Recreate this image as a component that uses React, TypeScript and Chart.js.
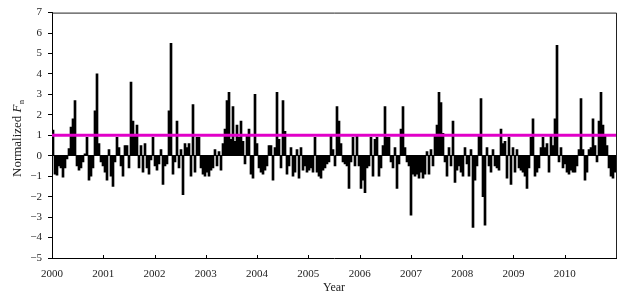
import React, { useEffect, useRef } from "react";
import { Chart, registerables } from "chart.js";

Chart.register(...registerables);

// Normalized Fn, one value per ~2 weeks (2000 .. 2011)
const VALUES: number[] = [
  1.25, -0.9, -0.95, -0.5, -0.6, -1.05, -0.6, -0.15, 0.35, 1.4,
  1.8, 2.7, -0.5, -0.7, -0.6, -0.3, 0.1, 0.9, -1.2, -1.0,
  -0.6, 2.2, 4.0, 0.6, -0.3, -0.5, -0.8, -1.2, 0.3, -1.0,
  -1.5, -0.3, 0.9, 0.4, -0.5, -1.0, 0.5, 0.5, -0.6, 3.6,
  1.7, 1.0, 1.5, -0.6, 0.5, -0.8, 0.6, -0.6, -0.9, -0.2,
  0.9, -0.5, -0.7, -0.4, 0.3, -1.4, -0.5, -0.4, 2.2, 5.5,
  -0.9, -0.3, 1.7, -0.6, 0.3, -1.9, 0.6, 0.4, 0.6, -1.0,
  2.5, -0.8, 0.9, 0.9, -0.6, -0.9, -1.0, -0.8, -1.0, -0.7,
  -0.6, 0.3, -0.5, 0.2, -0.7, 0.6, 1.3, 2.7, 3.1, 0.8,
  2.4, 0.7, 1.5, 0.9, 1.7, 0.7, -0.4, 1.0, 1.3, -0.9,
  -1.1, 3.0, 0.6, -0.6, -0.8, -0.9, -0.7, -0.5, 0.5, 0.5,
  -1.2, 0.4, 3.1, 0.8, -0.6, 2.7, 1.2, -0.9, -0.5, 0.4,
  -1.0, -0.8, 0.3, -1.1, 0.4, -0.7, -0.5, -0.8, -0.7, -0.6,
  -0.8, 0.9, -0.8, -1.0, -1.1, -0.7, -0.6, -0.4, -0.3, 1.0,
  0.3, -0.5, 2.4, 1.7, 0.6, -0.3, -0.4, -0.5, -1.6, -0.3,
  0.9, -0.5, 1.0, -0.5, -1.6, -1.2, -1.8, -0.6, -0.5, 0.9,
  -1.0, 0.8, 0.9, -1.0, -0.6, 0.5, 2.4, 0.9, 0.9, -0.3,
  -0.6, 0.4, -1.6, -0.4, 1.3, 2.4, 0.4, -0.3, -0.5, -2.9,
  -0.9, -1.0, -0.9, -1.1, -0.8, -1.1, -0.9, 0.2, -0.9, 0.3,
  -0.5, 1.0, 1.5, 3.1, 2.6, 1.1, -0.3, -1.0, 0.4, -0.5,
  1.7, -1.3, -0.7, -0.5, -0.8, -1.0, 0.4, -0.4, -1.0, 0.3,
  -3.5, -1.2, -0.5, 1.0, 2.8, -2.0, -3.4, 0.4, -0.5, -0.8,
  0.3, -0.5, -0.6, -0.7, 1.3, 0.6, 0.7, -1.1, 0.9, -1.4,
  0.4, -0.8, 0.3, -0.6, -0.7, -0.8, -1.0, -1.6, -0.6, 0.9,
  1.8, -1.0, -0.8, -0.6, 0.4, 0.9, 0.4, 0.6, -0.8, 1.0,
  0.5, 1.8, 5.4, -0.3, 0.4, -0.6, -0.4, -0.8, -0.9, -0.7,
  -0.8, -0.8, -0.5, 0.3, 2.8, 0.3, -1.2, -0.8, 0.3, 0.4,
  1.8, 0.5, -0.3, 1.7, 3.1, 1.5, 1.0, 0.5, -0.6, -1.0,
  -1.1, -0.8,
];

const START_YEAR = 2000;
const END_YEAR = 2011;
const LAST_LABEL_YEAR = 2010;
const Y_MIN = -5;
const Y_MAX = 7;
const THRESHOLD = 1;

const FONT = "'Liberation Serif', 'Times New Roman', serif";
const TEXT = "#222";
const MAGENTA = "rgb(225, 0, 200)";

const App: React.FC = () => {
  const ref = useRef<HTMLCanvasElement | null>(null);

  useEffect(() => {
    document.body.style.margin = "0";
    const canvas = ref.current;
    if (!canvas) return;

    const step = (END_YEAR - START_YEAR) / VALUES.length;
    const barData = VALUES.map((v, i) => ({ x: START_YEAR + (i + 0.5) * step, y: v }));
    const lineData = [
      { x: START_YEAR, y: THRESHOLD },
      { x: END_YEAR, y: THRESHOLD },
    ];

    const extras = {
      id: "extras",
      afterDraw(chart: any) {
        const { ctx, chartArea } = chart;
        const { left, right, top, bottom } = chartArea;
        ctx.save();
        ctx.strokeStyle = "#222";
        ctx.lineWidth = 1;
        ctx.beginPath();
        ctx.moveTo(left, top + 0.5);
        ctx.lineTo(right + 0.5, top + 0.5);
        ctx.lineTo(right + 0.5, bottom);
        ctx.stroke();
        const xs = chart.scales.x;
        ctx.strokeStyle = "#000";
        ctx.beginPath();
        for (let yr = START_YEAR + 1; yr <= LAST_LABEL_YEAR; yr++) {
          const px = Math.round(xs.getPixelForValue(yr)) + 0.5;
          ctx.moveTo(px, bottom);
          ctx.lineTo(px, bottom - 3);
        }
        ctx.stroke();
        ctx.fillStyle = TEXT;
        ctx.translate(21, 177);
        ctx.rotate(-Math.PI / 2);
        ctx.textBaseline = "alphabetic";
        ctx.textAlign = "left";
        ctx.font = `13px ${FONT}`;
        const part1 = "Normalized ";
        ctx.fillText(part1, 0, 0);
        let xoff = ctx.measureText(part1).width;
        ctx.font = `italic 13px ${FONT}`;
        ctx.fillText("F", xoff, 0);
        xoff += ctx.measureText("F").width + 0.5;
        ctx.font = `8px ${FONT}`;
        ctx.fillText("n", xoff, 3);
        ctx.restore();
      },
    };

    const chart = new Chart(canvas, {
      type: "bar",
      data: {
        datasets: [
          {
            type: "line",
            data: lineData,
            borderColor: MAGENTA,
            borderWidth: 3,
            pointRadius: 0,
            order: 0,
          } as any,
          {
            type: "bar",
            data: barData,
            backgroundColor: "#000",
            borderWidth: 0,
            barPercentage: 1,
            categoryPercentage: 1,
            order: 1,
          } as any,
        ],
      },
      options: {
        animation: false,
        responsive: false,
        maintainAspectRatio: false,
        layout: { padding: { top: 10, right: 11, left: 0, bottom: 0 } },
        plugins: { legend: { display: false }, tooltip: { enabled: false } },
        scales: {
          x: {
            type: "linear",
            min: START_YEAR,
            max: END_YEAR,
            offset: false,
            grid: { color: "rgba(0,0,0,0)", drawTicks: false, offset: false },
            border: { display: true, color: "#000", width: 1 },
            ticks: {
              stepSize: 1,
              autoSkip: false,
              maxRotation: 0,
              padding: 10,
              color: TEXT,
              font: { family: FONT, size: 11 },
              callback: (v: any) => (Number(v) <= LAST_LABEL_YEAR ? String(v) : ""),
            },
            title: {
              display: true,
              text: "Year",
              color: TEXT,
              font: { family: FONT, size: 12 },
              padding: { top: 0, bottom: 4 },
            },
            afterFit: (s: any) => {
              s.height = 41;
            },
          } as any,
          y: {
            min: Y_MIN,
            max: Y_MAX,
            grid: {
              color: (c: any) => (c.tick && c.tick.value === 0 ? "#000" : "rgba(0,0,0,0)"),
              tickColor: "#000",
              tickLength: 4,
              lineWidth: 1,
            },
            border: { display: true, color: "#000", width: 1 },
            ticks: {
              stepSize: 1,
              padding: 6,
              color: TEXT,
              font: { family: FONT, size: 11 },
              callback: (v: any) => (Number(v) < 0 ? "\u2212" + Math.abs(Number(v)) : String(v)),
            },
            afterFit: (s: any) => {
              s.width = 52;
            },
          } as any,
        },
      },
      plugins: [extras],
    });

    return () => chart.destroy();
  }, []);

  return <canvas ref={ref} width={627} height={299} style={{ display: "block" }} />;
};

export default App;
